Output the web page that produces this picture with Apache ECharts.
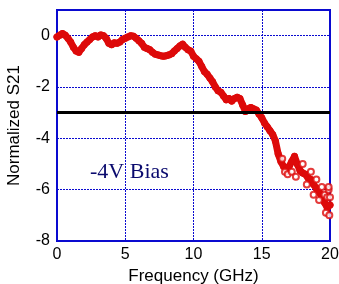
<!DOCTYPE html>
<html>
<head>
<meta charset="utf-8">
<script src="https://cdn.jsdelivr.net/npm/echarts@6/dist/echarts.min.js"></script>
<style>
  html, body { margin: 0; padding: 0; background: #fff; }
  #chart { width: 339px; height: 284px; }
</style>
</head>
<body>
<div id="chart"></div>
<script>
// measured S21 trace (GHz, normalized dB)
const freq = [
  0.0, 0.2, 0.4, 0.6, 0.8, 1.0, 1.2, 1.4, 1.6, 1.8,
  2.0, 2.2, 2.4, 2.6, 2.8, 3.0, 3.2, 3.4, 3.6, 3.8,
  4.0, 4.2, 4.4, 4.6, 4.8, 5.0, 5.2, 5.4, 5.6, 5.8,
  6.0, 6.2, 6.4, 6.6, 6.8, 7.0, 7.2, 7.4, 7.6, 7.8,
  8.0, 8.2, 8.4, 8.6, 8.8, 9.0, 9.2, 9.4, 9.6, 9.8,
  10.0, 10.2, 10.4, 10.6, 10.8, 11.0, 11.2, 11.4, 11.6, 11.8,
  12.0, 12.2, 12.4, 12.6, 12.8, 13.0, 13.2, 13.4, 13.6, 13.8,
  14.0, 14.2, 14.4, 14.6, 14.8, 15.0, 15.2, 15.4, 15.6, 15.8,
  16.0, 16.2, 16.4, 16.6, 16.8, 17.0, 17.2, 17.4, 17.6, 17.8,
  18.0, 18.2, 18.4, 18.6, 18.8, 19.0, 19.2, 19.4, 19.6, 19.8, 20.0
];
const s21 = [
  -0.05, 0.02, 0.08, 0.02, -0.1, -0.25, -0.45, -0.6, -0.65, -0.5,
  -0.35, -0.25, -0.15, -0.05, 0.0, -0.05, 0.03, 0.0, -0.1, -0.3,
  -0.35, -0.28, -0.3, -0.25, -0.15, -0.1, -0.05, 0.0, -0.02, -0.1,
  -0.2, -0.3, -0.45, -0.5, -0.55, -0.65, -0.72, -0.75, -0.78, -0.8,
  -0.78, -0.75, -0.7, -0.6, -0.5, -0.4, -0.33, -0.45, -0.55, -0.6,
  -0.8, -0.9, -1.0, -1.2, -1.4, -1.5, -1.65, -1.8, -2.0, -2.15,
  -2.2, -2.35, -2.5, -2.45, -2.55, -2.45, -2.4, -2.45, -2.7, -2.95,
  -2.85, -2.8, -2.85, -2.9, -3.05, -3.2, -3.4, -3.55, -3.7, -3.85,
  -4.1, -4.6, -4.9, -5.1, -5.2, -5.1, -4.9, -4.7, -5.0, -5.25,
  -5.35, -5.4, -5.55, -5.6, -5.8, -5.95, -6.1, -6.25, -6.5, -6.7, -6.6
];
// scattered points around the trace at high frequency
const spreadFreq = [16.5, 16.7, 16.9, 17.2, 17.5, 18.0, 18.3, 18.6, 18.8, 19.0,
  19.2, 19.4, 19.6, 19.7, 19.8, 19.9, 19.95, 19.9, 20.0];
const spreadS21 = [-4.8, -5.3, -5.4, -5.3, -5.5, -5.0, -5.8, -5.3, -6.2, -5.6,
  -6.4, -5.9, -6.2, -6.9, -6.3, -6.0, -7.0, -5.9, -6.3];

const xTicks = [0, 5, 10, 15, 20];
const yTicks = [-8, -6, -4, -2, 0];
const refLevel = -3;

const red = '#dd0a0a';
const blue = '#0a0ad0';

const chart = echarts.init(document.getElementById('chart'));
chart.setOption({
  animation: false,
  grid: {
    left: 57, right: 9, top: 10, bottom: 43, outerBoundsMode: 'none', containLabel: false,
    show: true, borderColor: blue, borderWidth: 2
  },
  xAxis: {
    type: 'value', min: xTicks[0], max: xTicks[xTicks.length - 1], interval: 5,
    name: 'Frequency (GHz)', nameLocation: 'middle', nameGap: 24,
    nameTextStyle: { fontFamily: 'Liberation Sans', fontSize: 17, color: '#000' },
    axisLine: { onZero: false, lineStyle: { color: blue, width: 2 } },
    axisTick: { show: false },
    axisLabel: { fontFamily: 'Liberation Sans', fontSize: 16, color: '#000', margin: 6 },
    splitLine: { lineStyle: { color: blue, type: [2, 1], width: 1 } }
  },
  yAxis: {
    type: 'value', min: yTicks[0], max: 1, interval: 2,
    name: 'Normalized S21', nameLocation: 'middle', nameGap: 34,
    nameTextStyle: { fontFamily: 'Liberation Sans', fontSize: 17, color: '#000' },
    axisLine: { onZero: false, lineStyle: { color: blue, width: 2 } },
    axisTick: { show: false },
    axisLabel: { fontFamily: 'Liberation Sans', fontSize: 16, color: '#000', margin: 7, showMaxLabel: false },
    splitLine: { lineStyle: { color: blue, type: [2, 1], width: 1 } }
  },
  series: [
    {
      type: 'line',
      data: freq.map((f, i) => [f, s21[i]]),
      symbol: 'circle', symbolSize: 7, showSymbol: true,
      itemStyle: { color: red },
      lineStyle: { color: red, width: 7, cap: 'round', join: 'round' },
      markLine: {
        silent: true, symbol: 'none', label: { show: false },
        lineStyle: { color: '#000', width: 3, type: 'solid' },
        data: [{ yAxis: refLevel }]
      },
      z: 3
    },
    {
      type: 'scatter',
      data: spreadFreq.map((f, i) => [f, spreadS21[i]]),
      symbol: 'emptyCircle', symbolSize: 6,
      itemStyle: { color: red, borderColor: red, borderWidth: 1.5 },
      z: 3
    }
  ],
  graphic: [{
    type: 'text', left: 90, top: 161,
    style: { text: '-4V Bias', fontFamily: 'Liberation Serif', fontSize: 22, fill: '#0a0a6e' }
  }]
});
</script>
</body>
</html>
